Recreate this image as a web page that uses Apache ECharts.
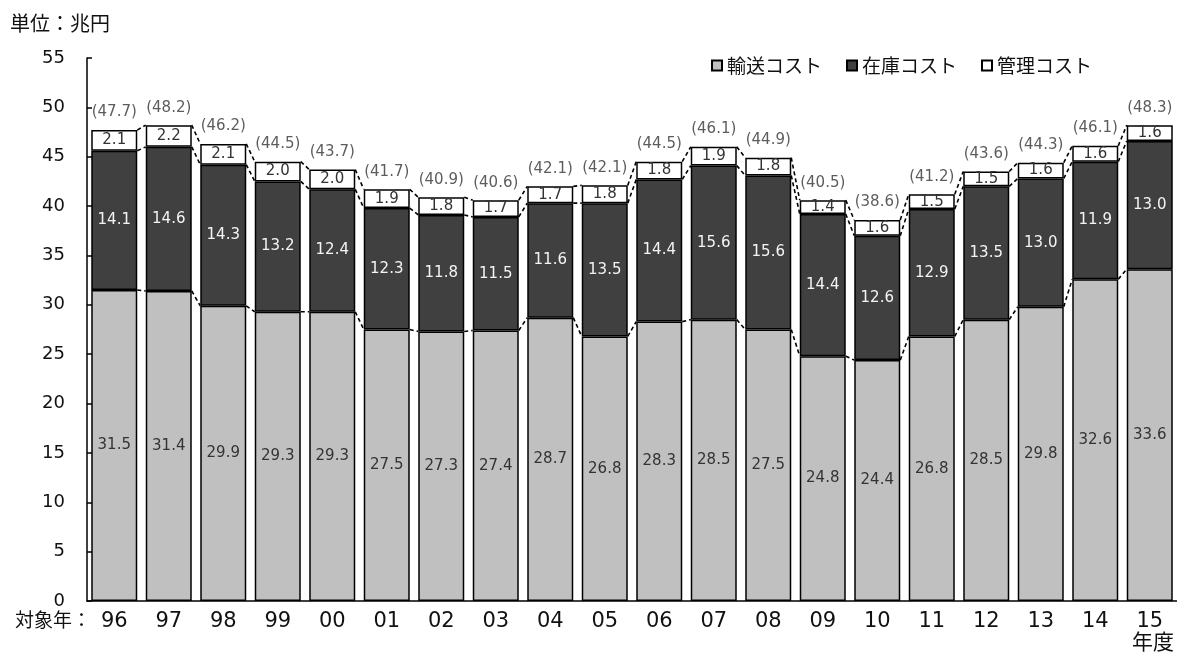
<!DOCTYPE html>
<html><head><meta charset="utf-8">
<script src="https://cdn.jsdelivr.net/npm/echarts@6/dist/echarts.min.js"></script>
<style>html,body{margin:0;padding:0;background:#fff}#c{width:1177px;height:655px}</style>
</head><body><div id="c"></div>
<script>
const categories = ['96','97','98','99','00','01','02','03','04','05','06','07','08','09','10','11','12','13','14','15'];
const transport = [31.5,31.4,29.9,29.3,29.3,27.5,27.3,27.4,28.7,26.8,28.3,28.5,27.5,24.8,24.4,26.8,28.5,29.8,32.6,33.6];
const inventory = [14.1,14.6,14.3,13.2,12.4,12.3,11.8,11.5,11.6,13.5,14.4,15.6,15.6,14.4,12.6,12.9,13.5,13.0,11.9,13.0];
const admin = [2.1,2.2,2.1,2.0,2.0,1.9,1.8,1.7,1.7,1.8,1.8,1.9,1.8,1.4,1.6,1.5,1.5,1.6,1.6,1.6];
const totals = [47.7,48.2,46.2,44.5,43.7,41.7,40.9,40.6,42.1,42.1,44.5,46.1,44.9,40.5,38.6,41.2,43.6,44.3,46.1,48.3];
const yTicks = {min:0, max:55, interval:5};
const seriesNames = ['輸送コスト','在庫コスト','管理コスト'];

const BW = 46;
const NUM = '"DejaVu Sans","Noto Sans CJK JP",sans-serif';
const JP = '"Noto Sans CJK JP","DejaVu Sans",sans-serif';

const lvl1 = transport.map(v=>v);
const lvl2 = transport.map((v,i)=>v+inventory[i]);
const lvl3 = transport.map((v,i)=>v+inventory[i]+admin[i]);
const connData = [];
for (let i=0;i<categories.length-1;i++){
  connData.push([i, lvl1[i], lvl1[i+1], lvl2[i], lvl2[i+1], lvl3[i], lvl3[i+1]]);
}

const chart = echarts.init(document.getElementById('c'), null, {renderer:'canvas'});
const fmt = p => Number(p.value).toFixed(1);
chart.setOption({
  animation:false,
  textStyle:{fontFamily:NUM},
  grid:{left:87,right:0,top:58,bottom:54,containLabel:false},
  legend:{
    data:seriesNames, right:80, top:51, itemWidth:10, itemHeight:10, itemGap:24,
    icon:'rect',
    textStyle:{fontFamily:JP,fontSize:19,color:'#111',padding:[0,0,0,0]}
  },
  xAxis:{
    type:'category', data:categories,
    axisLine:{lineStyle:{color:'#000',width:1.5}},
    axisTick:{show:false},
    axisLabel:{fontSize:21,color:'#111',margin:10,fontFamily:NUM}
  },
  yAxis:{
    type:'value', min:yTicks.min, max:yTicks.max, interval:yTicks.interval,
    axisLine:{show:true,lineStyle:{color:'#000',width:1.5}},
    axisTick:{show:true,inside:true,length:5,lineStyle:{color:'#000',width:1.5}},
    splitLine:{show:false},
    axisLabel:{fontSize:18,color:'#111',margin:22,fontFamily:NUM}
  },
  series:[
    {name:seriesNames[0],type:'bar',stack:'s',barWidth:BW,data:transport,
     itemStyle:{color:'#c0c0c0',borderColor:'#000',borderWidth:1.5},
     label:{show:true,position:'inside',color:'#333',fontSize:15,formatter:fmt}},
    {name:seriesNames[1],type:'bar',stack:'s',barWidth:BW,data:inventory,
     itemStyle:{color:'#404040',borderColor:'#000',borderWidth:1.5},
     label:{show:true,position:'inside',color:'#f4f4f4',fontSize:15,formatter:fmt}},
    {name:seriesNames[2],type:'bar',stack:'s',barWidth:BW,data:admin,
     itemStyle:{color:'#fff',borderColor:'#000',borderWidth:1.5},
     label:{show:true,position:'inside',color:'#333',fontSize:15,formatter:fmt}},
    {name:'total',type:'scatter',symbolSize:0,data:lvl3,silent:true,
     label:{show:true,position:'top',distance:10,color:'#333',fontSize:15,
       formatter:p=>'('+totals[p.dataIndex].toFixed(1)+')'}},
    {name:'conn',type:'custom',silent:true,z:5,clip:false,data:connData,
     encode:{x:0,y:1},
     renderItem:function(params,api){
       const i = api.value(0);
       const xa = api.coord([i,0])[0] + BW/2;
       const xb = api.coord([i+1,0])[0] - BW/2;
       const children = [];
       for (let k=0;k<3;k++){
         const y1 = api.coord([i, api.value(1+2*k)])[1];
         const y2 = api.coord([i+1, api.value(2+2*k)])[1];
         children.push({type:'line',shape:{x1:xa,y1:y1,x2:xb,y2:y2},
           style:{stroke:'#000',lineWidth:1.6,lineDash:[4,3]}});
       }
       return {type:'group',children:children};
     }}
  ],
  graphic:[
    {type:'text',left:10,top:13,style:{text:'単位：兆円',fontFamily:JP,fontSize:20,fill:'#111'}},
    {type:'text',left:15,top:610,style:{text:'対象年：',fontFamily:JP,fontSize:19,fill:'#111'}},
    {type:'text',left:1132,top:631,style:{text:'年度',fontFamily:JP,fontSize:21,fill:'#111'}}
  ]
});
</script></body></html>
